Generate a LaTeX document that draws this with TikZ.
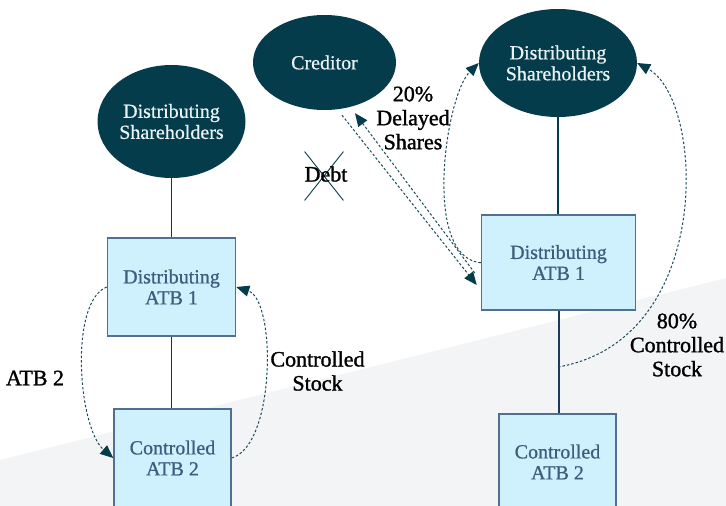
\documentclass[tikz,border=0pt]{standalone}
\usepackage{fontspec}
\setmainfont{Liberation Serif}
\newfontfamily\lblfont{Liberation Serif}[FakeBold=1.3]
\newfontfamily\boxfont{Liberation Serif}[FakeBold=0.8]
\newfontfamily\ovalfont{Liberation Serif}[FakeBold=0.6]
\usetikzlibrary{arrows.meta,shapes.geometric,shapes.misc}
\definecolor{darkteal}{HTML}{043C4B}
\definecolor{dashteal}{HTML}{1A4C5C}
\definecolor{boxfill}{HTML}{CFF1FD}
\definecolor{boxline}{HTML}{4F7090}
\definecolor{boxtext}{HTML}{3E5C7C}
\definecolor{ovaltext}{HTML}{EAF2F4}
\definecolor{bggray}{HTML}{F3F4F6}
\definecolor{navyline}{HTML}{1B3A5E}
\tikzset{
  oval/.style={ellipse, fill=darkteal, draw=none, inner sep=0pt, text=ovaltext,
    align=center, font=\ovalfont\fontsize{20}{21}\selectfont},
  entity/.style={rectangle, fill=boxfill, draw=boxline, line width=1.5pt, inner sep=0pt,
    text=boxtext, align=center, font=\boxfont\fontsize{20}{21}\selectfont},
  lbl/.style={align=center, text=black, inner sep=0pt, font=\lblfont\fontsize{22}{24}\selectfont},
  link/.style={draw=darkteal, line width=1.2pt},
  flow/.style={draw=dashteal, line width=1pt, dash pattern=on 2.5pt off 2pt,
    -{Triangle[length=13pt,width=11pt,fill=darkteal,color=darkteal]}},
}
\begin{document}
\begin{tikzpicture}[x=1pt,y=-1pt]
\useasboundingbox (0,0) rectangle (726,506);
\clip (0,0) rectangle (726,506);
\fill[white] (0,0) rectangle (726,506);
\fill[bggray] (0,460) -- (726,278) -- (726,506) -- (0,506) -- cycle;

% left structure
\node[oval, minimum width=148pt, minimum height=113pt] (lsh) at (171.5,121.5) {Distributing\\Shareholders};
\node[entity, minimum width=128pt, minimum height=98pt] (la1) at (171.5,287) {Distributing\\ATB 1};
\node[entity, minimum width=117pt, minimum height=98pt] (la2) at (172.5,458) {Controlled\\ATB 2};

% right structure
\node[oval, minimum width=143pt, minimum height=95pt] (cred) at (324.5,62.5) {Creditor};
\node[oval, minimum width=158pt, minimum height=108pt] (rsh) at (558,63) {Distributing\\Shareholders};
\node[entity, minimum width=154pt, minimum height=95pt] (ra1) at (558.5,262.5) {Distributing\\ATB 1};
\node[entity, minimum width=117pt, minimum height=96pt] (ra2) at (557.5,462) {Controlled\\ATB 2};

% solid links
\draw[link] (lsh.south) -- (lsh.south |- la1.north);
\draw[link] (la1.south) -- (la1.south |- la2.north);
\draw[link, line width=1.3pt] (rsh.south) -- (rsh.south |- ra1.north);
\draw[draw=navyline, line width=2pt] (ra1.south) -- (ra1.south |- ra2.north);
\coordinate (split) at (558,367);

% dashed flows left
\draw[flow] (la1.west) .. controls +(-38,15) and +(-35,-30) .. (la2.west);
\draw[flow] (la2.east) .. controls +(44,-13) and +(40,13) .. (la1.east);

% dashed flows right
\draw[flow] ([shift={(17.5,5)}]cred.south) -- ([shift={(-4,22.5)}]ra1.west);
\draw[flow] ([shift={(-6,10.5)}]ra1.west) -- ([shift={(30.5,3)}]cred.south);
\draw[flow] (ra1.west) -- +(-1.5,0) .. controls (422,255) and (446,95) .. (rsh.west);
\draw[flow] (split) .. controls (715,340) and (705,100) .. (rsh.east);

% labels
\node[lbl] (tatb) at (35,378) {ATB 2};
\node[lbl] (tcs) at (317.5,371) {Controlled\\Stock};
\node[lbl] (tdel) at (413,118) {20\%\\Delayed\\Shares};
\node[lbl] (tctl) at (677,345) {80\%\\Controlled\\Stock};
\node[cross out, draw=darkteal, line width=0.9pt, minimum width=38pt, minimum height=48pt, inner sep=0pt] (xmark) at (324,176) {};
\node[lbl] (tdebt) at (326,174) {Debt};
\end{tikzpicture}
\end{document}
